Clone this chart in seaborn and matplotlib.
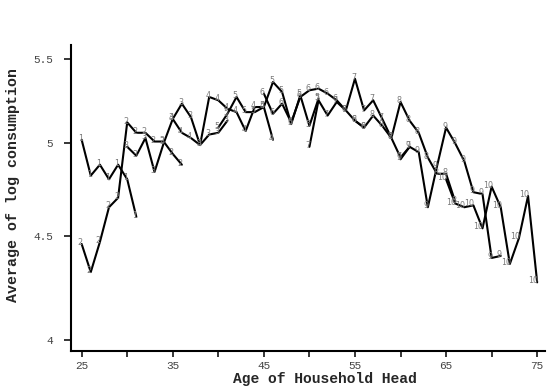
import numpy as np
import pandas as pd
import matplotlib
matplotlib.use("Agg")
import matplotlib.pyplot as plt
from matplotlib.ticker import NullLocator, FixedLocator, FixedFormatter
import seaborn as sns

# ---- data: average log consumption by age, one series per birth cohort ----
c1_ages = list(range(25, 32))
c1_vals = [5.02, 4.82, 4.88, 4.80, 4.88, 4.80, 4.60]
c2_ages = list(range(25, 37))
c2_vals = [4.46, 4.32, 4.47, 4.65, 4.70, 5.12, 5.06, 5.06, 5.01, 5.01, 4.94, 4.88]
c3_ages = list(range(30, 42))
c3_vals = [4.98, 4.93, 5.03, 4.84, 5.00, 5.14, 5.23, 5.15, 4.99, 5.05, 5.06, 5.13]
c4_ages = list(range(35, 47))
c4_vals = [5.14, 5.06, 5.03, 4.99, 5.27, 5.25, 5.20, 5.18, 5.07, 5.21, 5.21, 5.02]
c5_ages = list(range(40, 52))
c5_vals = [5.09, 5.17, 5.27, 5.18, 5.18, 5.21, 5.36, 5.30, 5.11, 5.28, 5.10, 5.26]
c6_ages = list(range(45, 57))
c6_vals = [5.29, 5.17, 5.23, 5.12, 5.27, 5.31, 5.32, 5.29, 5.25, 5.19, 5.13, 5.09]
c7_ages = list(range(50, 62))
c7_vals = [4.98, 5.25, 5.16, 5.24, 5.19, 5.38, 5.19, 5.25, 5.14, 5.03, 4.92, 4.98]
c8_ages = list(range(55, 67))
c8_vals = [5.13, 5.09, 5.16, 5.10, 5.03, 5.24, 5.13, 5.06, 4.92, 4.83, 4.83, 4.68]
c9_ages = list(range(60, 72))
c9_vals = [4.91, 4.98, 4.95, 4.65, 4.87, 5.09, 5.00, 4.90, 4.73, 4.72, 4.39, 4.40]
c10_ages = list(range(65, 76))
c10_vals = [4.80, 4.67, 4.65, 4.66, 4.54, 4.76, 4.65, 4.36, 4.49, 4.71, 4.27]

cohort_labels = ["1", "2", "3", "4", "5", "6", "7", "8", "9", "10"]
x_ticks = [25, 30, 35, 40, 45, 50, 55, 60, 65, 70, 75]
x_ticklabels = ["25", "", "35", "", "45", "", "55", "", "65", "", "75"]
y_ticks = [4, 4.5, 5, 5.5]
y_ticklabels = ["4", "4.5", "5", "5.5"]
x_title = "Age of Household Head"
y_title = "Average of log consumption"

ages_all = [c1_ages, c2_ages, c3_ages, c4_ages, c5_ages,
            c6_ages, c7_ages, c8_ages, c9_ages, c10_ages]
vals_all = [c1_vals, c2_vals, c3_vals, c4_vals, c5_vals,
            c6_vals, c7_vals, c8_vals, c9_vals, c10_vals]

rows = []
for lab, ages, vals in zip(cohort_labels, ages_all, vals_all):
    for a, v in zip(ages, vals):
        rows.append({"cohort": lab, "age": a, "value": v})
df = pd.DataFrame(rows)

# ---- figure ----
sns.set_style("white")
plt.rcParams["font.family"] = ["DejaVu Sans"]

fig = plt.figure(figsize=(5.5, 3.86), dpi=100)
ax = fig.add_axes([71 / 550, 35 / 386, 474 / 550, 306 / 386])

sns.lineplot(data=df, x="age", y="value", units="cohort", estimator=None,
             color="black", linewidth=1.5, ax=ax, legend=False, sort=False)

for _, r in df.iterrows():
    ax.annotate(r["cohort"], (r["age"], r["value"]), xytext=(0.8, 1.0),
                textcoords="offset points", ha="right", va="center",
                fontsize=5.8, color="#7a7a7a", family="DejaVu Sans")

ax.set_yscale("log")
ax.set_xlim(23.83, 75.86)
ax.set_ylim(3.95, 5.59)
ax.yaxis.set_major_locator(FixedLocator(y_ticks))
ax.yaxis.set_major_formatter(FixedFormatter(y_ticklabels))
ax.yaxis.set_minor_locator(NullLocator())
ax.set_xticks(x_ticks)
ax.set_xticklabels(x_ticklabels)

for s in ["top", "right"]:
    ax.spines[s].set_visible(False)
for s in ["left", "bottom"]:
    ax.spines[s].set_linewidth(1.5)
    ax.spines[s].set_color("black")

ax.tick_params(axis="y", direction="out", length=5.3, width=1.3, pad=7.5,
               labelsize=8, labelcolor="#444444", left=True)
ax.tick_params(axis="x", direction="out", length=4.5, width=1.3, pad=2.5,
               labelsize=8, labelcolor="#444444", bottom=True)
for t in ax.get_xticklabels() + ax.get_yticklabels():
    t.set_family("Liberation Mono")

ax.set_xlabel("")
ax.set_ylabel("")
fig.text(325 / 550, 1 - 379 / 386, x_title, ha="center", va="center",
         fontsize=10.5, fontweight="bold", family="Liberation Mono")
fig.text(13 / 550, 1 - 185 / 386, y_title, ha="center", va="center",
         rotation=90, fontsize=10.8, fontweight="bold",
         family="Liberation Mono")

fig.savefig("out.png", dpi=100)
